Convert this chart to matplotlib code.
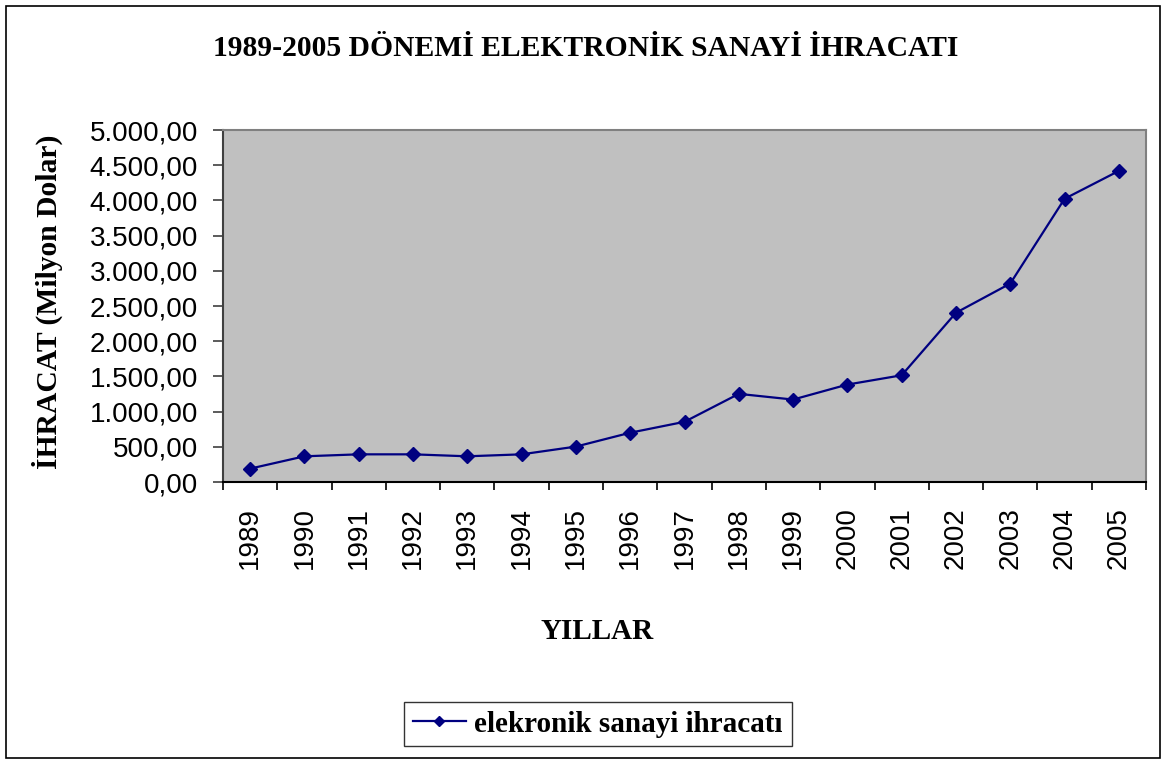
import matplotlib
matplotlib.use("Agg")
import matplotlib.pyplot as plt
from matplotlib.patches import Rectangle
from matplotlib.ticker import FuncFormatter, MultipleLocator, FixedLocator

years = ["1989", "1990", "1991", "1992", "1993", "1994", "1995", "1996", "1997",
         "1998", "1999", "2000", "2001", "2002", "2003", "2004", "2005"]
exports = [190, 365, 393, 393, 365, 393, 503, 700, 855,
           1252, 1171, 1384, 1516, 2404, 2819, 4023, 4419]

title = "1989-2005 DÖNEMİ ELEKTRONİK SANAYİ İHRACATI"
y_label = "İHRACAT (Milyon Dolar)"
x_label = "YILLAR"
series_label = "elekronik sanayi ihracatı"

W, H = 1166, 764
serif = "Liberation Serif"
sans = "Liberation Sans"


def tr_number(v, _pos=None):
    s = f"{v:,.2f}"
    return s.replace(",", "X").replace(".", ",").replace("X", ".")


fig = plt.figure(figsize=(W / 100, H / 100), dpi=100)
fig.patch.set_facecolor("white")
fig.add_artist(Rectangle((6 / W, 6 / H), (W - 12) / W, (H - 12) / H,
                         transform=fig.transFigure, fill=False,
                         edgecolor="black", linewidth=1.2))

ax = fig.add_axes([223 / W, 1 - 482 / H, 923 / W, 352 / H])
ax.set_facecolor("#c0c0c0")

x = list(range(len(years)))
ax.plot(x, exports, color="#000080", linewidth=1.6, marker="D",
        markersize=7, label=series_label)

ax.set_xlim(-0.5, len(years) - 0.5)
ax.set_ylim(0, 5000)

ax.yaxis.set_major_locator(MultipleLocator(500))
ax.yaxis.set_major_formatter(FuncFormatter(tr_number))
ax.tick_params(axis="y", direction="out", length=7, width=1.2,
               color="#404040", pad=11, labelsize=20)

ax.xaxis.set_major_locator(FixedLocator(x))
ax.set_xticklabels(years, rotation=90, fontsize=20, family=sans)
ax.tick_params(axis="x", which="major", length=0, pad=18)
ax.xaxis.set_minor_locator(FixedLocator([i - 0.5 for i in range(len(years) + 1)]))
ax.tick_params(axis="x", which="minor", direction="out", length=6,
               width=1.2, color="black")

for lbl in ax.get_yticklabels():
    lbl.set_family(sans)

for side in ("top", "right"):
    ax.spines[side].set_color("#808080")
    ax.spines[side].set_linewidth(1.5)
ax.spines["left"].set_color("#404040")
ax.spines["left"].set_linewidth(1.5)
ax.spines["bottom"].set_color("black")
ax.spines["bottom"].set_linewidth(1.5)

fig.text(586 / W, 1 - 49 / H, title, ha="center", va="center",
         family=serif, weight="bold", fontsize=21.3)

ax.set_ylabel(y_label, family=serif, weight="bold", fontsize=21.3)
ax.yaxis.set_label_coords((63 - 223) / 923, (482 - 302) / 352)
ax.set_xlabel(x_label, family=serif, weight="bold", fontsize=21)
ax.xaxis.set_label_coords((597 - 223) / 923, (482 - 618) / 352)

leg = fig.legend(loc="center", bbox_to_anchor=(598 / W, 1 - 724 / H),
                 frameon=True, fancybox=False, handlelength=1.8,
                 borderpad=0.3, handletextpad=0.3, markerscale=0.8,
                 prop={"family": serif, "weight": "bold", "size": 21})
leg.get_frame().set_edgecolor("black")
leg.get_frame().set_linewidth(1.0)

fig.savefig("out.png", dpi=100)
